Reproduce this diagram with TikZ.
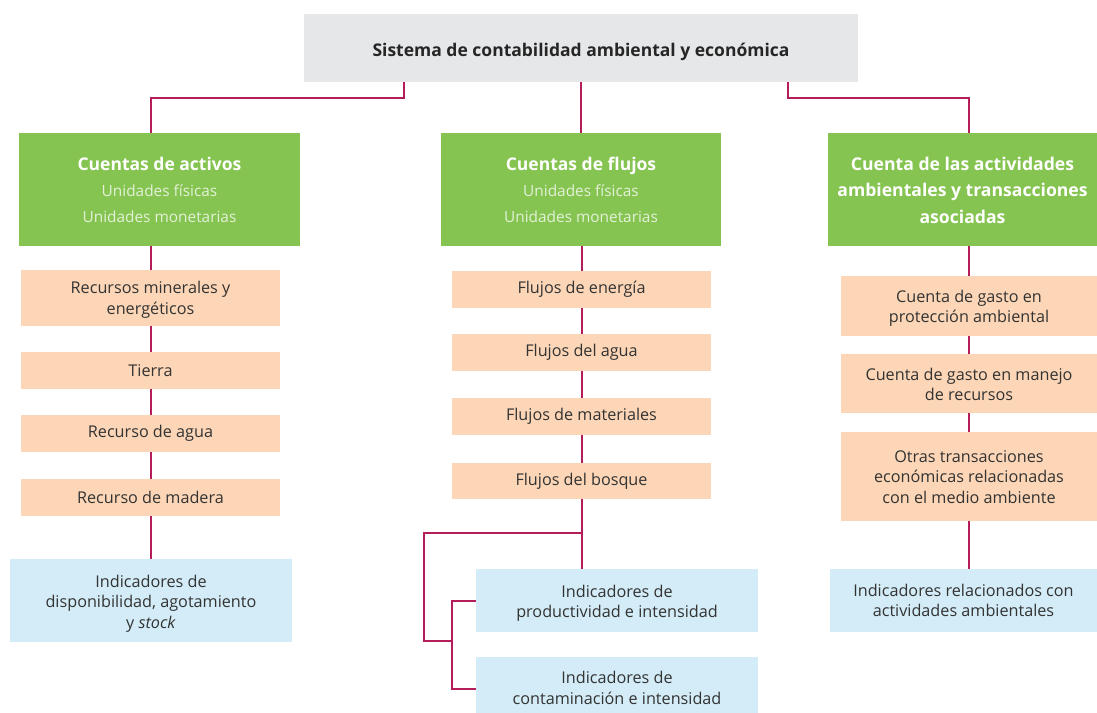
\documentclass[tikz,border=0pt]{standalone}
\usepackage{fontspec}
\setmainfont{Open Sans}
\definecolor{gry}{HTML}{E6E7E9}
\definecolor{grn}{HTML}{86C451}
\definecolor{org}{HTML}{FCD6B6}
\definecolor{blu}{HTML}{D3ECF7}
\definecolor{lin}{HTML}{B41C5A}
\definecolor{txt}{HTML}{333333}
\definecolor{sub}{HTML}{E3F1D8}
\newcommand{\dn}[2]{\raisebox{-#1}[\height][\depth]{\begin{tabular}{@{}c@{}}#2\end{tabular}}}
\begin{document}
\begin{tikzpicture}[x=1pt,y=-1pt,
  box/.style={inner sep=0pt, align=center, text=txt, font=\fontsize{16.2}{20.5}\selectfont},
  tbox/.style={box, fill=gry, text=black!85, font=\fontsize{17.5}{20}\selectfont\bfseries},
  gbox/.style={box, fill=grn, text=white, font=\fontsize{15.4}{26}\selectfont},
  obox/.style={box, fill=org},
  ibox/.style={box, fill=blu},
  conn/.style={draw=lin, line width=2pt, line join=miter}]
\useasboundingbox (0,0) rectangle (1097,712);

% top
\node[tbox, minimum width=554pt, minimum height=68pt] (top) at (581,48) {\dn{4.5pt}{Sistema de contabilidad ambiental y económica}};

% green headers
\node[gbox, minimum width=281pt, minimum height=113pt] (gL) at (159.5,189.5)
 {{\fontsize{17.5}{26}\selectfont\bfseries Cuentas de activos}\\{\color{sub}Unidades físicas}\\{\color{sub}Unidades monetarias}};
\node[gbox, minimum width=280pt, minimum height=113pt] (gM) at (581,189.5)
 {{\fontsize{17.5}{26}\selectfont\bfseries Cuentas de flujos}\\{\color{sub}Unidades físicas}\\{\color{sub}Unidades monetarias}};
\node[gbox, minimum width=269pt, minimum height=113pt, font=\fontsize{17.6}{26.5}\selectfont\bfseries] (gR) at (962.5,189.5)
 {\dn{2pt}{Cuenta de las actividades\\ambientales y transacciones\\asociadas}};

% left column
\node[obox, minimum width=259pt, minimum height=56pt] (a1) at (150.5,298) {\dn{2pt}{Recursos minerales y\\energéticos}};
\node[obox, minimum width=259pt, minimum height=37pt] (a2) at (150.5,370.5) {Tierra};
\node[obox, minimum width=259pt, minimum height=37pt] (a3) at (150.5,433.5) {Recurso de agua};
\node[obox, minimum width=259pt, minimum height=37pt] (a4) at (150.5,497.5) {Recurso de madera};
\node[ibox, minimum width=282pt, minimum height=83pt] (aI) at (151,600.5) {\dn{3pt}{Indicadores de\\disponibilidad, agotamiento\\y \textit{stock}}};

% middle column
\node[obox, minimum width=259pt, minimum height=37pt] (f1) at (581.5,289.5) {Flujos de energía};
\node[obox, minimum width=259pt, minimum height=37pt] (f2) at (581.5,352.5) {Flujos del agua};
\node[obox, minimum width=259pt, minimum height=37pt] (f3) at (581.5,416.5) {Flujos de materiales};
\node[obox, minimum width=259pt, minimum height=36pt] (f4) at (581.5,481) {Flujos del bosque};
\node[ibox, minimum width=282pt, minimum height=63pt] (fI1) at (617,600.5) {\dn{3pt}{Indicadores de\\productividad e intensidad}};
\node[ibox, minimum width=282pt, minimum height=63pt] (fI2) at (617,688.5) {\dn{1.5pt}{Indicadores de\\contaminación e intensidad}};

% right column
\node[obox, minimum width=256pt, minimum height=60pt] (r1) at (969,306) {\dn{2.5pt}{Cuenta de gasto en\\protección ambiental}};
\node[obox, minimum width=256pt, minimum height=59pt] (r2) at (969,383.5) {\dn{3pt}{Cuenta de gasto en manejo\\de recursos}};
\node[obox, minimum width=256pt, minimum height=89pt] (r3) at (969,476.5) {\dn{2pt}{Otras transacciones\\económicas relacionadas\\con el medio ambiente}};
\node[ibox, minimum width=267pt, minimum height=63pt] (rI) at (963.5,600.5) {\dn{2pt}{Indicadores relacionados con\\actividades ambientales}};

% connectors top
\coordinate (tL) at (404,98);
\coordinate (tR) at (788,98);
\draw[conn] (top.south -| tL) -- (tL) -| (gL.north -| a1.north);
\draw[conn] (top.south -| tR) -- (tR) -| (gR.north -| r1.north);
\draw[conn] (top.south) -- (gM.north);

% left
\draw[conn] (gL.south -| a1.north) -- (a1.north);
\draw[conn] (a1.south) -- (a2.north);
\draw[conn] (a2.south) -- (a3.north);
\draw[conn] (a3.south) -- (a4.north);
\draw[conn] (a4.south) -- (a4.south |- aI.north);

% middle
\draw[conn] (gM.south -| f1.north) -- (f1.north);
\draw[conn] (f1.south) -- (f2.north);
\draw[conn] (f2.south) -- (f3.north);
\draw[conn] (f3.south) -- (f4.north);
\draw[conn] (f4.south) -- (f4.south |- fI1.north);
\coordinate (br) at (424,533);
\coordinate (bj) at (452,641);
\draw[conn] (f4.south |- br) -- (br) |- (bj);
\draw[conn] (fI1.west) -- (fI1.west -| bj) |- (fI2.west);

% right
\draw[conn] (gR.south -| r1.north) -- (r1.north);
\draw[conn] (r1.south) -- (r2.north);
\draw[conn] (r2.south) -- (r3.north);
\draw[conn] (r3.south) -- (r3.south |- rI.north);
\end{tikzpicture}
\end{document}
